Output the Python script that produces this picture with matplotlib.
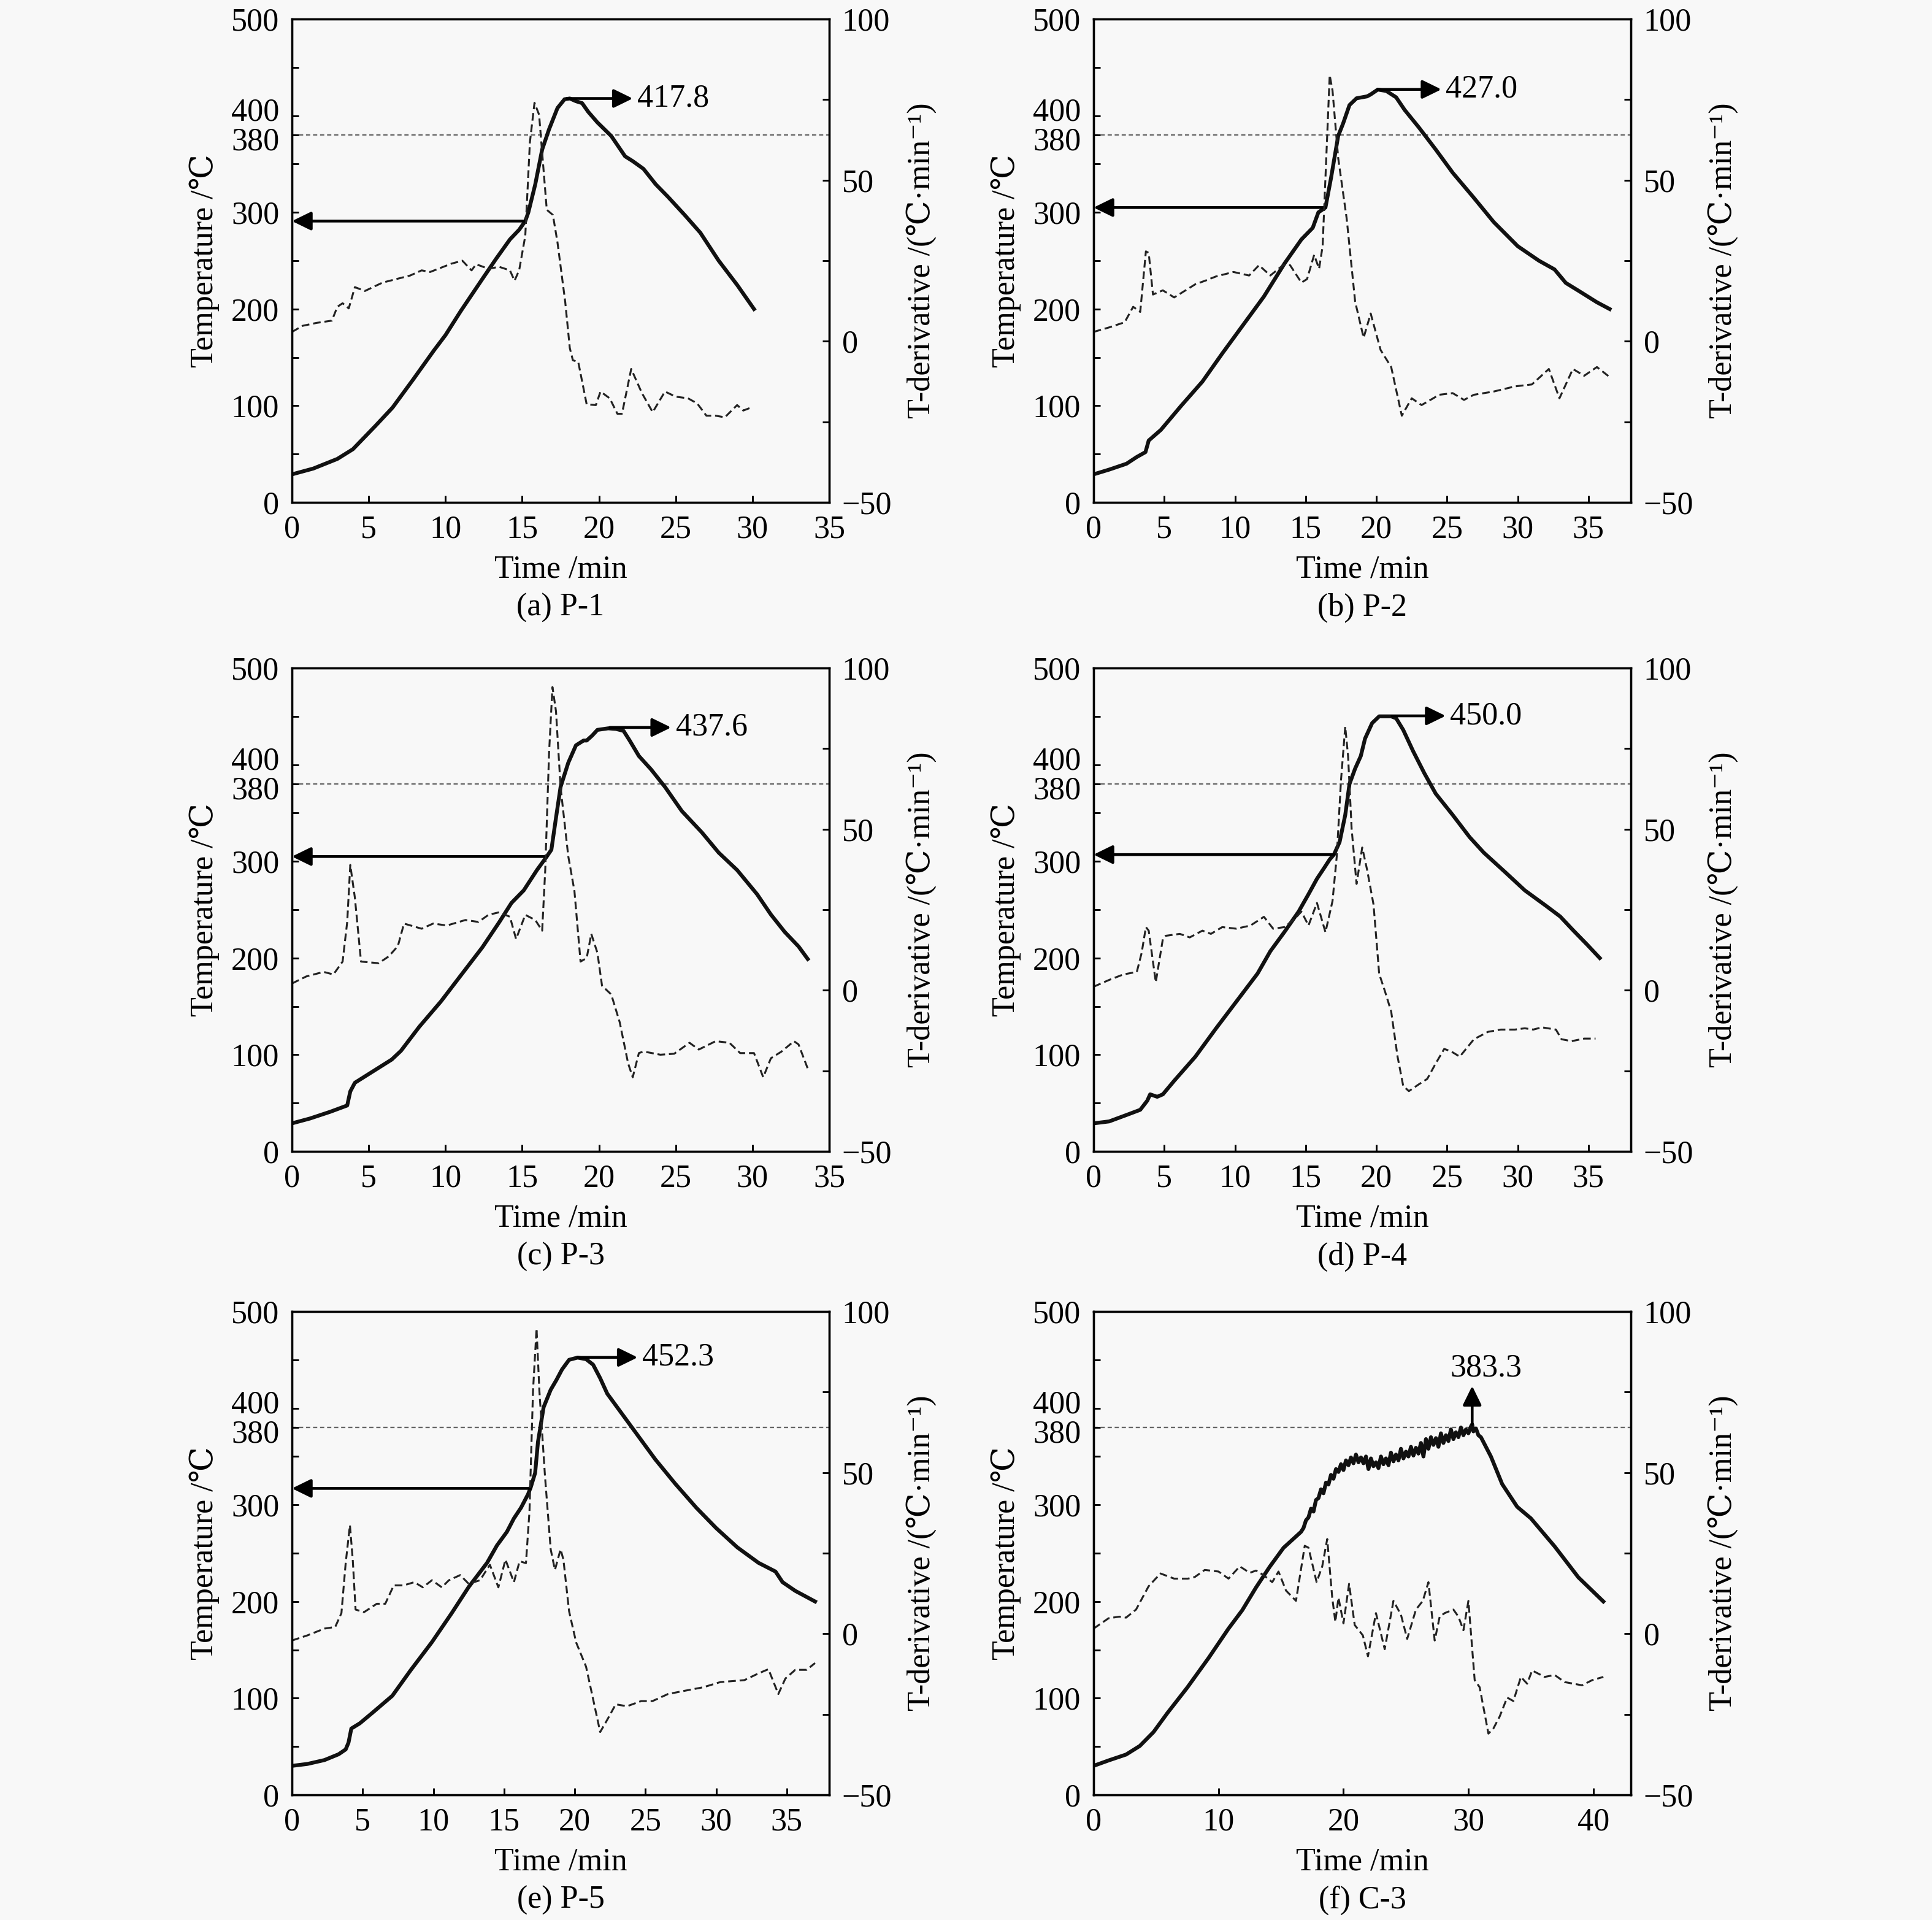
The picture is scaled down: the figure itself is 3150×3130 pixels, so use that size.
import matplotlib
matplotlib.use("Agg")
import matplotlib.pyplot as plt
import matplotlib.transforms as mtransforms
from matplotlib.ticker import FixedLocator, MultipleLocator

plt.rcParams["font.family"] = ["Liberation Serif", "DejaVu Serif", "Noto Sans CJK SC"]
plt.rcParams["font.size"] = 12.5
plt.rcParams["axes.unicode_minus"] = True

BG = "#f8f8f8"

# ---- (a) P-1 ----
P1_TIME = [0, 1.39, 2.96, 3.97, 5.43, 6.55, 7.89, 9.24, 10.0, 11.0, 12.4, 13.3, 14.2, 14.8, 15.2, 15.4,
           15.85, 16.3, 16.75, 17.3, 17.76, 18.1, 18.5, 18.9, 19.3, 19.9, 20.8, 21.7, 22.2, 22.9,
           23.7, 24.5, 25.6, 26.6, 27.8, 29.0, 30.1]
P1_TEMP = [29, 35, 45, 55, 79, 98, 127, 157, 173, 198, 231, 252, 272, 282, 291, 300,
           329, 365, 386, 408, 417, 417.8, 415, 413, 404, 393, 379, 358, 353, 345,
           329, 316, 297, 279, 250, 225, 200]
P1_DTIME = [0, 0.7, 1.6, 2.6, 2.96, 3.3, 3.7, 4.1, 4.75, 5.9, 7.7, 8.45, 9.0, 10.4, 11.1, 11.7, 12.0,
            12.8, 13.5, 14.2, 14.5, 14.8, 15.2, 15.5, 15.8, 16.1, 16.3, 16.6, 17.0, 17.3, 17.8, 18.1,
            18.3, 18.65, 19.2, 19.8, 20.1, 20.7, 21.2, 21.5, 22.1, 22.8, 23.5, 24.3, 25.0, 25.8,
            26.4, 27.0, 27.6, 28.2, 29.0, 29.4, 30.0]
P1_DERIV = [2.9, 4.8, 5.7, 6.4, 10.7, 11.8, 10.2, 16.8, 15.6, 18.2, 20.4, 22, 21.5, 24.1, 25, 22, 23.9,
            22.5, 23.1, 22, 18.8, 22, 32.7, 61.7, 74, 70.3, 58.5, 40.8, 39.2, 30.6, 12.3, -2.1,
            -5.9, -6.4, -19.6, -19.8, -15.6, -17.7, -22.5, -22.5, -8.6, -16.1, -22, -15.6, -17.2, -17.7,
            -19.3, -23.1, -23.1, -23.6, -19.8, -21.5, -20.4]

# ---- (b) P-2 ----
P2_TIME = [0, 1.12, 2.33, 3.06, 3.67, 3.9, 4.76, 6.2, 7.7, 9.1, 10.6, 12.05, 13.5, 14.7, 15.5, 15.9,
           16.4, 16.8, 17.3, 17.65, 18.1, 18.6, 19.35, 19.6, 20.1, 20.7, 21.4, 22.0, 23.0, 24.2,
           25.4, 26.9, 28.3, 30.0, 31.5, 32.6, 33.4, 34.4, 35.6, 36.5]
P2_TEMP = [29, 34, 40, 47, 52, 64, 75, 100, 125, 154, 184, 213, 247, 272, 284, 300,
           305, 336, 379, 392, 411, 418, 420, 422, 427.0, 425.6, 419, 406, 388, 365,
           341, 315, 290, 265, 250, 241, 227, 218, 207, 200]
P2_DTIME = [0, 1.1, 2.2, 2.8, 3.3, 3.7, 3.9, 4.2, 4.9, 5.7, 7.2, 7.9, 8.65, 9.9, 11.0, 11.7, 12.5,
            13.4, 13.9, 14.7, 15.1, 15.6, 15.95, 16.2, 16.7, 16.9, 17.3, 17.9, 18.5, 19.1, 19.6,
            20.3, 21.05, 21.8, 22.5, 23.2, 24.45, 25.4, 26.2, 26.9, 28.3, 29.8, 31.0, 32.2, 32.95,
            33.9, 34.7, 35.6, 36.5]
P2_DERIV = [2.9, 4.3, 5.9, 10.7, 9.1, 27.9, 27.4, 14.5, 15.8, 13.6, 17.7, 18.8, 20.1, 21.5, 20.4, 23.6, 20.4,
            23.6, 23.6, 18.2, 19.3, 26.8, 22.5, 29.5, 82.6, 77.8, 56.9, 38.1, 12.3, 1.1, 8.6,
            -2.7, -8, -23.1, -17.7, -19.8, -16.6, -16.1, -18.2, -16.6, -15.6, -14, -13.4, -8.6, -17.7,
            -8.6, -10.7, -8, -11.1]

# ---- (c) P-3 ----
P3_TIME = [0, 1.17, 2.5, 3.6, 3.8, 4.1, 5.2, 6.5, 7.1, 8.3, 9.7, 11.0, 12.4, 13.5, 14.3, 15.1, 15.96,
           16.6, 16.9, 17.2, 17.5, 18.0, 18.5, 19.0, 19.2, 19.55, 19.9, 20.6, 21.1, 21.6, 22.0,
           22.6, 23.4, 24.3, 25.4, 26.7, 27.8, 29.0, 30.3, 31.2, 32.1, 33.0, 33.6]
P3_TEMP = [29, 34, 41, 47.5, 62, 71, 82, 95, 104, 129, 155, 182, 211, 237, 257, 270, 291,
           305, 312, 345, 377, 402, 420, 425, 425, 430, 436, 437.6, 437, 435, 425,
           409, 395, 377, 352, 330, 309, 291, 266, 245, 227, 212, 199]
P3_DTIME = [0, 0.94, 2.06, 2.7, 3.3, 3.6, 3.8, 4.1, 4.5, 5.65, 6.3, 6.9, 7.3, 8.45, 9.2, 10.1, 11.3,
            12.15, 12.8, 13.5, 14.2, 14.6, 15.2, 15.85, 16.3, 16.5, 16.75, 16.97, 17.2, 17.5, 18.0,
            18.4, 18.8, 19.2, 19.5, 19.9, 20.2, 20.8, 21.35, 21.9, 22.2, 22.6, 22.9, 24.0, 24.9,
            25.9, 26.5, 27.6, 28.5, 29.2, 30.1, 30.7, 31.2, 31.9, 32.7, 33.0, 33.6]
P3_DERIV = [2.1, 4.3, 5.7, 4.9, 8.9, 21.2, 38.9, 28.7, 8.9, 8.4, 10.5, 13.7, 20.7, 19.1, 20.7, 20.1, 21.8,
            21.2, 23.4, 24.2, 22.8, 15.9, 23.4, 21.8, 18.5, 37.3, 73.7, 94.1, 86.6, 63, 41.6,
            30.9, 8.9, 10, 17.5, 11.6, 1.4, -1.3, -9.9, -22.7, -27, -19.5, -19, -20, -19.7,
            -16.3, -18.4, -15.8, -16.3, -19.5, -19.5, -27, -21.1, -19, -15.8, -16.8, -24.3]

# ---- (d) P-4 ----
P4_TIME = [0, 1.1, 2.3, 3.3, 3.8, 4.0, 4.5, 4.9, 5.7, 7.2, 8.65, 10.1, 11.6, 12.5, 13.5, 14.5, 15.2,
           15.8, 16.3, 16.7, 17.0, 17.4, 17.8, 18.1, 18.5, 18.9, 19.2, 19.7, 20.2, 21.05, 21.4,
           21.9, 22.6, 23.4, 24.2, 25.4, 26.6, 27.6, 29.1, 30.5, 32.0, 33.0, 33.9, 34.9, 35.8]
P4_TEMP = [29, 31, 37.5, 43, 52.5, 59, 56.5, 59, 73, 98, 127, 155, 184, 207, 227, 248, 266,
           282, 293, 302, 307, 320, 348, 380, 396, 409, 427, 443, 450.0, 450, 448,
           436, 414, 391, 370, 348, 325, 309, 289, 270, 254, 243, 229, 214, 200]
P4_DTIME = [0, 1.1, 2.1, 3.06, 3.4, 3.7, 3.9, 4.4, 4.9, 5.1, 6.1, 6.8, 7.7, 8.3, 9.1, 10.1, 11.1,
            12.05, 12.7, 13.5, 14.25, 14.7, 15.2, 15.8, 16.4, 16.9, 17.2, 17.5, 17.8, 18.0, 18.25,
            18.6, 19.0, 19.35, 19.8, 20.2, 20.6, 21.05, 21.5, 21.9, 22.3, 23.0, 23.6, 24.2, 24.8,
            25.3, 25.9, 26.9, 27.9, 28.8, 29.8, 30.5, 31.1, 31.7, 32.7, 33.1, 33.8, 34.7, 35.5]
P4_DERIV = [1.1, 3.2, 4.9, 5.7, 11.6, 19.6, 18.5, 2.5, 15.9, 16.9, 17.5, 16.4, 18.5, 17.5, 19.6, 19.1, 20.1,
            22.8, 19.1, 19.6, 22.3, 24.4, 20.1, 27.1, 18, 27.7, 41.6, 65.2, 81.8, 72.7, 50.2,
            33, 44.3, 37.3, 26.6, 5.1, -0.2, -6.6, -20.6, -29.7, -31.3, -29.2, -27.5, -22.7, -18.2,
            -19, -20.6, -15.2, -12.9, -12.2, -12.2, -11.8, -12.2, -11.5, -12.2, -15.2, -15.8, -15, -15]

# ---- (e) P-5 ----
P5_TIME = [0, 1.1, 2.3, 3.3, 3.8, 4.0, 4.2, 4.8, 5.7, 7.1, 8.4, 9.9, 11.3, 12.5, 13.8, 14.5, 15.2,
           15.7, 16.2, 16.7, 16.9, 17.2, 17.4, 17.8, 18.3, 18.7, 19.1, 19.6, 20.2, 20.8, 21.3,
           21.8, 22.3, 23.2, 24.45, 25.7, 27.1, 28.6, 30.0, 31.5, 33.0, 34.2, 34.7, 35.6, 37.0]
P5_TEMP = [30, 32, 36, 42, 47, 54, 68.6, 74, 85, 102.5, 129, 158, 188, 215, 240, 258, 272,
           286, 297, 311, 318.6, 333, 365, 401, 419, 429, 440, 450, 452.3, 450.7, 445,
           431, 415, 397, 372, 347, 322, 297, 276, 256, 240, 231, 220, 211, 200]
P5_DTIME = [0, 1.1, 2.3, 3.06, 3.5, 3.8, 4.1, 4.3, 4.5, 5.1, 6.0, 6.6, 7.2, 7.9, 8.65, 9.26, 9.9,
            10.6, 11.1, 11.9, 12.5, 13.3, 14.0, 14.6, 15.1, 15.7, 16.1, 16.55, 16.8, 17.05, 17.3,
            17.5, 17.9, 18.3, 18.6, 19.0, 19.2, 19.6, 20.1, 20.8, 21.3, 21.8, 22.3, 22.9, 23.7,
            24.7, 25.5, 26.6, 27.9, 29.1, 30.3, 32.0, 33.0, 33.7, 34.4, 34.9, 35.6, 36.4, 37.0]
P5_DERIV = [-2.1, -0.5, 1.6, 2.1, 6.4, 21.9, 33.7, 23, 7.5, 6.7, 9.3, 9.3, 15, 15, 16, 14.4, 16.6,
            14.4, 16.6, 18.2, 15.5, 16.6, 21.4, 14.4, 23, 16, 22.5, 21.9, 38, 75.4, 94.7,
            75.4, 48.7, 26.2, 19.8, 26.2, 23, 7, -2.7, -10.2, -20.3, -30.5, -26.7, -21.9, -22.5,
            -20.9, -20.9, -18.7, -17.6, -16.6, -15, -14.4, -12.3, -11, -18.7, -13.9, -11.2, -11.2, -9.1]

# ---- (f) C-3 ----
C3_TIME = [0, 1.2, 2.6, 3.7, 4.8, 5.9, 7.5, 9.2, 10.8, 11.9, 13.0, 14.1, 15.2, 16.6,
           16.8, 17.0, 17.2, 17.4, 17.6, 17.8, 18.0, 18.2, 18.4, 18.6, 18.8, 19.0, 19.2, 19.4,
           19.6, 19.8, 20.0, 20.2, 20.4, 20.6, 20.8, 21.0, 21.2, 21.4, 21.6, 21.8, 22.0, 22.2,
           22.4, 22.6, 22.8, 23.0, 23.2, 23.4, 23.6, 23.8, 24.0, 24.2, 24.4, 24.6, 24.8, 25.0,
           25.2, 25.4, 25.6, 25.8, 26.0, 26.2, 26.4, 26.6, 26.8, 27.0, 27.2, 27.4, 27.6, 27.8,
           28.0, 28.2, 28.4, 28.6, 28.8, 29.0, 29.2, 29.4, 29.6, 29.8, 30.0, 30.2, 30.3, 30.4,
           30.6, 30.8, 31.0, 31.2, 31.8, 32.7, 33.9, 35.0, 36.9, 38.8, 40.8]
C3_TEMP = [30, 35.6, 41.7, 50.6, 65, 84.5, 111, 141.5, 172, 191, 214.5, 236, 255.5, 272,
           276, 284, 287, 296, 293, 305, 307, 316, 312, 323, 321, 331, 327, 337,
           334, 342, 336, 346, 341, 349, 343, 352, 344, 349, 343, 350, 337, 348,
           340, 344, 338, 350, 342, 348, 341, 354, 345, 352, 346, 358, 348, 355,
           350, 360, 351, 359, 353, 364, 350, 368, 358, 370, 362, 369, 360, 374,
           364, 372, 366, 378, 368, 375, 370, 380, 372, 378, 374, 381, 383.3, 376,
           379, 372, 370, 365, 350, 321.5, 298, 286, 257, 225, 200]
C3_DTIME = [0, 1.2, 2.06, 2.6, 3.4, 4.4, 5.35, 6.45, 7.55, 8.1, 8.9, 10.0, 10.8, 11.7, 12.5, 13.0,
            13.6, 14.3, 14.8, 15.4, 16.2, 16.9, 17.2, 17.85, 18.3, 18.7, 19.1, 19.35, 19.6, 20.0,
            20.45, 20.9, 21.55, 21.96, 22.6, 23.3, 24.0, 24.6, 25.1, 25.8, 26.35, 26.8, 27.3, 27.7,
            28.1, 28.8, 29.2, 29.6, 30.0, 30.5, 30.9, 31.6, 32.0, 32.5, 33.1, 33.6, 34.2, 34.7,
            35.1, 36.1, 36.9, 37.7, 39.1, 39.9, 40.8]
C3_DERIV = [1.6, 4.8, 5.3, 5, 7.5, 14.7, 18.7, 17.1, 17.1, 17.6, 19.8, 19.3, 17.1, 20.9, 18.9, 19.6,
            18.2, 16, 19.3, 13.4, 10.2, 27.3, 26.7, 16, 20.9, 29.4, 11.2, 3.7, 11.2, 3.2,
            15.5, 2.7, -0.5, -7, 6.4, -4.8, 10.2, 5.9, -1.6, 7.5, 10.2, 16, -2.1, 5.3,
            6.4, 7.5, 5.3, 1.1, 10.2, -14.4, -16.6, -31, -29.4, -25.7, -19.8, -20.9, -13.4, -15.5,
            -11.4, -13.4, -12.8, -15, -16, -14.4, -13.4]

CAPTIONS = ["(a) P-1", "(b) P-2", "(c) P-3", "(d) P-4", "(e) P-5", "(f) C-3"]
X_MAX = [35, 38, 35, 38, 38, 43]
X_STEP = [5, 5, 5, 5, 5, 10]
# horizontal arrow pointing at the temperature axis: start time, temperature
LEFT_ARROW_T0 = [15.2, 16.4, 16.6, 17.0, 16.9, None]
LEFT_ARROW_Y = [291, 305, 305, 307, 317, None]
# peak arrows: start time, tip time, level, label
PEAK_T0 = [17.9, 20.1, 20.7, 21.1, 20.2, 30.3]
PEAK_T1 = [22.2, 24.6, 24.7, 24.9, 24.45, 30.3]
PEAK_Y = [417.8, 427.2, 438.5, 450.5, 452.5, 423]
PEAK_VAL = [417.8, 427.0, 437.6, 450.0, 452.3, 383.3]
LIMIT_TEMP = 380

TIMES = [P1_TIME, P2_TIME, P3_TIME, P4_TIME, P5_TIME, C3_TIME]
TEMPS = [P1_TEMP, P2_TEMP, P3_TEMP, P4_TEMP, P5_TEMP, C3_TEMP]
DTIMES = [P1_DTIME, P2_DTIME, P3_DTIME, P4_DTIME, P5_DTIME, C3_DTIME]
DERIVS = [P1_DERIV, P2_DERIV, P3_DERIV, P4_DERIV, P5_DERIV, C3_DERIV]

W, H = 3150, 3130
fig = plt.figure(figsize=(W / 300, H / 300), dpi=300, facecolor=BG)

COL_LEFT = [476 / W, 1783 / W]
ROW_BOTTOM = [(H - 819) / H, (H - 1877) / H, (H - 2926) / H]
AX_W = 876 / W
AX_H = 788 / H

arrow_style = "-|>,head_length=0.45,head_width=0.22"
arrow_kw = dict(arrowstyle=arrow_style, mutation_scale=14, lw=1.1, color="k", shrinkA=0, shrinkB=0)

for i in range(6):
    r, c = divmod(i, 2)
    ax = fig.add_axes([COL_LEFT[c], ROW_BOTTOM[r], AX_W, AX_H])
    ax.set_facecolor(BG)
    ax2 = ax.twinx()

    ax.plot(TIMES[i], TEMPS[i], color="#111111", lw=1.5, solid_joinstyle="round", zorder=3)
    ax2.plot(DTIMES[i], DERIVS[i], color="#222222", lw=0.75, linestyle=(0, (4, 2)))
    ax.axhline(LIMIT_TEMP, color="#666666", lw=0.55, linestyle=(0, (3, 2)), zorder=1)

    ax.set_xlim(0, X_MAX[i])
    ax.set_ylim(0, 500)
    ax2.set_ylim(-50, 100)

    ax.xaxis.set_major_locator(MultipleLocator(X_STEP[i]))
    ax.yaxis.set_major_locator(FixedLocator([0, 100, 200, 300, 380, 400, 500]))
    ax.yaxis.set_minor_locator(MultipleLocator(50))
    ax2.yaxis.set_major_locator(MultipleLocator(50))
    ax2.yaxis.set_minor_locator(MultipleLocator(25))

    for a in (ax, ax2):
        a.tick_params(which="both", direction="in", length=2.6, width=0.7, pad=5, labelsize=12.5)
        for s in a.spines.values():
            s.set_linewidth(0.8)
    ax.tick_params(top=False, right=False)

    # in the original the "400" and "380" labels are nudged apart
    for lab in ax.get_yticklabels():
        if lab.get_text() == "400":
            lab.set_transform(lab.get_transform() + mtransforms.ScaledTranslation(0, 2.6 / 72, fig.dpi_scale_trans))
        elif lab.get_text() == "380":
            lab.set_transform(lab.get_transform() + mtransforms.ScaledTranslation(0, -1.4 / 72, fig.dpi_scale_trans))

    ax.set_ylabel("Temperature /℃")
    ax.yaxis.set_label_coords(-0.135, 0.5)
    ax2.set_ylabel("T-derivative /(℃·min⁻¹)")
    ax2.yaxis.set_label_coords(1.143, 0.5)
    ax.set_xlabel("Time /min")
    ax.xaxis.set_label_coords(0.5, -0.108)
    ax.text(0.5, -0.218, CAPTIONS[i], transform=ax.transAxes, ha="center", va="center")

    if LEFT_ARROW_T0[i] is not None:
        ax.annotate("", xy=(0, LEFT_ARROW_Y[i]), xytext=(LEFT_ARROW_T0[i], LEFT_ARROW_Y[i]),
                    arrowprops=arrow_kw, zorder=4)

    if PEAK_T0[i] == PEAK_T1[i]:
        # C-3: vertical arrow from the maximum
        ax.annotate("", xy=(PEAK_T1[i], PEAK_Y[i]), xytext=(PEAK_T0[i], PEAK_VAL[i]),
                    arrowprops=arrow_kw, zorder=4)
        ax.text(PEAK_T1[i] + 1.1, 441, f"{PEAK_VAL[i]:.1f}", ha="center", va="center")
    else:
        ax.annotate("", xy=(PEAK_T1[i], PEAK_Y[i]), xytext=(PEAK_T0[i], PEAK_Y[i]),
                    arrowprops=arrow_kw, zorder=4)
        ax.text(PEAK_T1[i] + 0.3, PEAK_Y[i], f"{PEAK_VAL[i]:.1f}", ha="left", va="center")

fig.savefig("out.png", dpi=300, facecolor=BG)
